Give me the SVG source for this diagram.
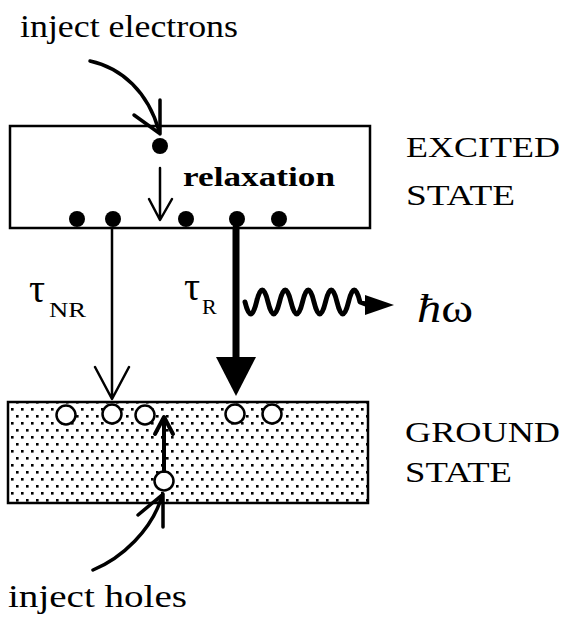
<svg xmlns="http://www.w3.org/2000/svg" width="561" height="618" viewBox="0 0 561 618">
  <style>
    .t { font-family: "Liberation Serif", "Times New Roman", serif; fill: #000; }
    .box { fill: #fff; stroke: #000; stroke-width: 2.5; }
    .e { fill: #000; }
    .h { fill: #fff; stroke: #000; stroke-width: 2.5; }
    .ln { fill: none; stroke: #000; stroke-linecap: round; stroke-linejoin: round; }
  </style>
  <defs>
    <pattern id="stip" width="10" height="14" patternUnits="userSpaceOnUse">
      <rect x="1" y="2" width="2.6" height="2.6" fill="#000"/>
      <rect x="6" y="9" width="2.6" height="2.6" fill="#000"/>
    </pattern>
  </defs>
  <rect width="561" height="618" fill="#fff"/>

  <g id="excited-state">
    <rect class="box" x="10" y="126" width="360" height="102"/>
    <circle class="e" cx="160" cy="146" r="8"/>
    <circle class="e" cx="77" cy="219" r="8"/>
    <circle class="e" cx="113" cy="219" r="8"/>
    <circle class="e" cx="186" cy="219" r="8"/>
    <circle class="e" cx="237" cy="219" r="8"/>
    <circle class="e" cx="279" cy="219" r="8"/>
    <text class="t" x="183" y="186" font-size="27" font-weight="bold" textLength="152" lengthAdjust="spacingAndGlyphs">relaxation</text>
  </g>

  <g id="ground-state">
    <rect x="8" y="402" width="360" height="101" fill="#fff"/>
    <rect x="8" y="402" width="360" height="101" fill="url(#stip)" stroke="#000" stroke-width="2.5"/>
    <circle class="h" cx="66" cy="415" r="9.5"/>
    <circle class="h" cx="112" cy="414" r="9.5"/>
    <circle class="h" cx="145" cy="415" r="9.5"/>
    <circle class="h" cx="235" cy="414" r="9.5"/>
    <circle class="h" cx="272" cy="414" r="9.5"/>
    <circle class="h" cx="164" cy="481" r="9.5"/>
  </g>

  <g id="labels">
    <text class="t" x="20" y="37" font-size="32" textLength="218" lengthAdjust="spacingAndGlyphs">inject electrons</text>
    <text class="t" x="8" y="607" font-size="32" textLength="179" lengthAdjust="spacingAndGlyphs">inject holes</text>
    <text class="t" x="406" y="157" font-size="30" textLength="154" lengthAdjust="spacingAndGlyphs">EXCITED</text>
    <text class="t" x="406" y="205" font-size="30" textLength="109" lengthAdjust="spacingAndGlyphs">STATE</text>
    <text class="t" x="405" y="442" font-size="30" textLength="155" lengthAdjust="spacingAndGlyphs">GROUND</text>
    <text class="t" x="405" y="482" font-size="30" textLength="107" lengthAdjust="spacingAndGlyphs">STATE</text>
    <text class="t" x="29" y="302" font-size="40">τ</text>
    <text class="t" x="49" y="317" font-size="22" textLength="37" lengthAdjust="spacingAndGlyphs">NR</text>
    <text class="t" x="184" y="300" font-size="40">τ</text>
    <text class="t" x="202" y="314" font-size="22">R</text>
    <text class="t" x="417" y="322" font-size="40" textLength="56" lengthAdjust="spacingAndGlyphs"><tspan font-style="italic">ħ</tspan>ω</text>
  </g>

  <g id="connectors">
    <path class="ln" stroke-width="3.5" d="M90,61 C122,68 148,92 159,131"/>
    <path class="ln" stroke-width="3.5" d="M160,100 L160,134 M134,115 L159,133"/>
    <path class="ln" stroke-width="2.5" d="M160,168 L160,219 M149,199 L160,220 L172,199"/>
    <path class="ln" stroke-width="2.5" d="M112,228 L112,398 M95,367 L112,399 L129,367"/>
    <path class="ln" stroke-width="7" stroke-linecap="butt" d="M236,228 L236,362"/>
    <polygon points="216,357 256,357 236,396" fill="#000"/>
    <path class="ln" stroke-width="5" d="M245,302 q5.75,24 11.5,0 t11.5,0 t11.5,0 t11.5,0 t11.5,0 t11.5,0 t11.5,0 t11.5,0 t11.5,0 t11.5,0 L368,305"/>
    <polygon points="365,295 394,305 365,315" fill="#000"/>
    <path class="ln" stroke-width="4" d="M164,471 L164,419 M155,434 L164,417 L173,434"/>
    <path class="ln" stroke-width="3.5" d="M93,570 C122,558 152,530 162,496"/>
    <path class="ln" stroke-width="3.5" d="M163,494 L163,527 M138,515 L162,495"/>
  </g>
</svg>
